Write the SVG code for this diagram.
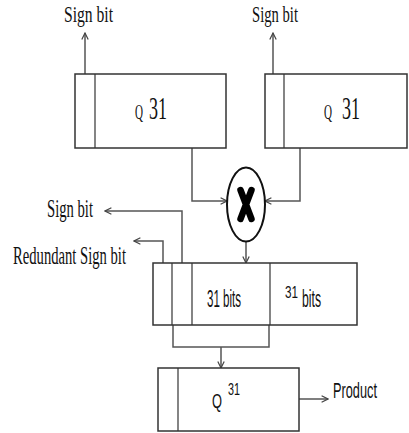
<svg xmlns="http://www.w3.org/2000/svg" width="409" height="433" viewBox="0 0 409 433">
<defs>
<style>
.box{fill:#fff;stroke:#333;stroke-width:1.5}
.div{stroke:#333;stroke-width:1.2;fill:none}
.ln{stroke:#555;stroke-width:1.5;fill:none}
.ser{font-family:"Liberation Serif","Times New Roman",serif;fill:#111}
.san{font-family:"Liberation Sans",Arial,sans-serif;fill:#111}
</style>
<marker id="ah" viewBox="0 0 10 10" refX="9" refY="5" markerWidth="8" markerHeight="8" markerUnits="userSpaceOnUse" orient="auto">
<path d="M1,1 L9,5 L1,9" fill="none" stroke="#444" stroke-width="1.5"/>
</marker>
</defs>
<rect width="409" height="433" fill="#fff"/>
<g id="connectors">
<path class="ln" d="M85,74 V33" marker-end="url(#ah)"/>
<path class="ln" d="M273,74 V33" marker-end="url(#ah)"/>
<path class="ln" d="M192,148 V201 H227" marker-end="url(#ah)"/>
<path class="ln" d="M300,148 V201 H265" marker-end="url(#ah)"/>
<path class="ln" d="M246,242 V263" marker-end="url(#ah)"/>
<path class="ln" d="M182,263 V211 H105" marker-end="url(#ah)"/>
<path class="ln" d="M163,263 V241 H134" marker-end="url(#ah)"/>
<path class="ln" d="M173,325 V347 H269 V325"/>
<path class="ln" d="M221,347 V368" marker-end="url(#ah)"/>
<path class="ln" d="M299,399 H328" marker-end="url(#ah)"/>
</g>
<g id="q31-left">
<rect class="box" x="75" y="74" width="151" height="74"/>
<line class="div" x1="95" y1="74" x2="95" y2="148"/>
<text class="ser" x="135" y="119" font-size="21" textLength="8" lengthAdjust="spacingAndGlyphs">Q</text>
<text class="ser" x="149" y="119" font-size="31" textLength="18" lengthAdjust="spacingAndGlyphs">31</text>
</g>
<g id="q31-right">
<rect class="box" x="265" y="74" width="142" height="74"/>
<line class="div" x1="284" y1="74" x2="284" y2="148"/>
<text class="ser" x="324" y="119" font-size="21" textLength="8" lengthAdjust="spacingAndGlyphs">Q</text>
<text class="ser" x="342" y="119" font-size="31" textLength="18" lengthAdjust="spacingAndGlyphs">31</text>
</g>
<g id="label-sign-left">
<text class="ser" x="64" y="22" font-size="23" textLength="49" lengthAdjust="spacingAndGlyphs">Sign bit</text>
</g>
<g id="label-sign-right">
<text class="ser" x="252" y="22" font-size="23" textLength="46" lengthAdjust="spacingAndGlyphs">Sign bit</text>
</g>
<g id="multiplier">
<ellipse cx="246" cy="204.5" rx="19" ry="37" fill="#fff" stroke="#111" stroke-width="2"/>
<path d="M240.5,190 L251.5,219 M251.5,190 L240.5,219" stroke="#000" stroke-width="6.5" stroke-linecap="round" fill="none"/>
</g>
<g id="product-register">
<rect class="box" x="153" y="263" width="204" height="62"/>
<line class="div" x1="172" y1="263" x2="172" y2="325"/>
<line class="div" x1="192" y1="263" x2="192" y2="325"/>
<line class="div" x1="270" y1="263" x2="270" y2="325"/>
<text class="san" x="207" y="307" font-size="23" textLength="34" lengthAdjust="spacingAndGlyphs">31 bits</text>
<text class="san" x="285" y="298" font-size="17" textLength="13" lengthAdjust="spacingAndGlyphs">31</text>
<text class="san" x="302" y="307" font-size="23" textLength="19" lengthAdjust="spacingAndGlyphs">bits</text>
</g>
<g id="label-sign-mid">
<text class="ser" x="47" y="217" font-size="25" textLength="46" lengthAdjust="spacingAndGlyphs">Sign bit</text>
</g>
<g id="label-redundant">
<text class="ser" x="13" y="264" font-size="25" textLength="113" lengthAdjust="spacingAndGlyphs">Redundant Sign bit</text>
</g>
<g id="q31-result">
<rect class="box" x="158" y="368" width="141" height="63"/>
<line class="div" x1="178" y1="368" x2="178" y2="431"/>
<text class="san" x="212" y="408" font-size="21" textLength="10" lengthAdjust="spacingAndGlyphs">Q</text>
<text class="san" x="228" y="395" font-size="17" textLength="12" lengthAdjust="spacingAndGlyphs">31</text>
</g>
<g id="label-product">
<text class="san" x="333" y="398" font-size="22" textLength="44" lengthAdjust="spacingAndGlyphs">Product</text>
</g>
</svg>
